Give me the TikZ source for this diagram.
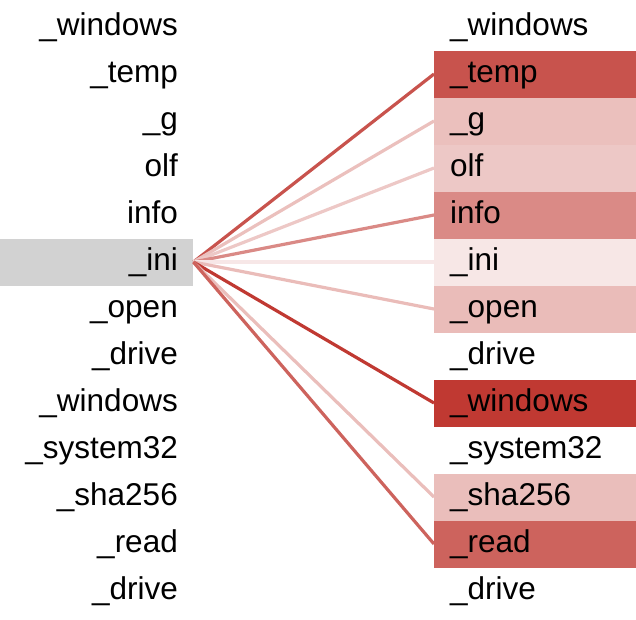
\documentclass[tikz,border=0pt]{standalone}
\usepackage{fontspec}
\setmainfont{Liberation Sans}
\definecolor{heat}{RGB}{192,57,50}
\tikzset{
  word/.style={inner sep=0pt, font=\fontsize{31.5}{37}\selectfont},
  cell/.style={inner sep=0pt, minimum width=202pt, minimum height=47pt, anchor=west},
  link/.style={line width=3.2pt},
}
\begin{document}
\begin{tikzpicture}[x=1pt,y=-1pt]
\useasboundingbox (0,0) rectangle (636,619);
\node[fill=gray!35, inner sep=0pt, minimum width=193pt, minimum height=47pt, anchor=west] (src) at (0,262) {};
\foreach \i/\p in {1/87,2/32,3/28,4/59,5/12,6/34,8/100,10/33,11/79}{
  \node[cell, fill=heat!\p!white] (c\i) at (434,{27+47*\i}) {};
  \draw[link, heat!\p!white] (src.east) -- (c\i.west);
}
\foreach \i/\w in {0/\_windows,1/\_temp,2/\_g,3/olf,4/info,5/\_ini,6/\_open,7/\_drive,8/\_windows,9/\_system32,10/\_sha256,11/\_read,12/\_drive}{
  \node[word, anchor=mid east] (l\i) at (178,{33+47*\i}) {\w};
  \node[word, anchor=mid west] (r\i) at (450,{33+47*\i}) {\w};
}
\end{tikzpicture}
\end{document}
